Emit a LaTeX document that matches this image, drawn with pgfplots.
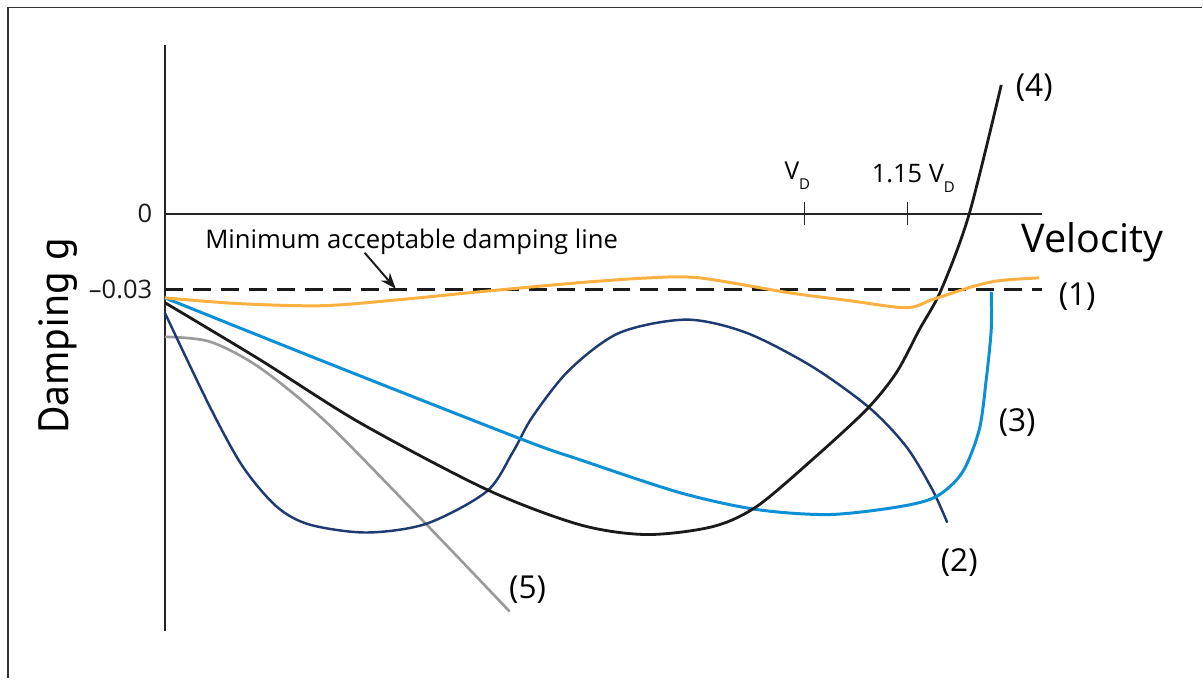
\documentclass[border=0pt]{standalone}
\usepackage{fontspec}
\setmainfont{Open Sans}
\newfontfamily\labelfont{PT Sans}
\usepackage{pgfplots}
\pgfplotsset{compat=1.18}
\usetikzlibrary{arrows.meta}
\definecolor{dOrange}{HTML}{FBB040}
\definecolor{dBlue}{HTML}{0B8FD6}
\definecolor{dNavy}{HTML}{1E3A72}
\definecolor{dGray}{HTML}{9A9A9A}
\definecolor{dBlack}{HTML}{1A1A1A}

\begin{document}
\begin{tikzpicture}
\begin{axis}[
    x=13.74cm, y=50.6667cm,
    xmin=0.0684, xmax=1.3464,
    ymin=-0.1650, ymax=0.0667,
    enlargelimits=false,
    axis x line=middle, axis y line=left,
    axis line style={-, line width=0.85pt, draw=black!85},
    xtick={1,1.15}, xticklabels={,},
    ytick={0,-0.03}, yticklabels={0,–0.03},
    tick align=center, major tick length=0.46cm,
    xtick style={line width=0.85pt, draw=black!85},
    ytick style={draw=none},
    yticklabel style={font=\fontsize{14.5}{16}\selectfont, anchor=east,
                      xshift=0.1cm, text=black!90},
    clip=false,
]
  % minimum acceptable damping
  \addplot[dBlack, line width=1.7pt, dash pattern=on 0.36cm off 0.2cm]
    coordinates {(0.0684,-0.0300) (1.3464,-0.0300)};

  % (5)
  \addplot[dGray, line width=1.5pt, smooth, tension=0.5] coordinates {
    (0.0684,-0.0486) (0.1339,-0.0505) (0.2067,-0.0608) (0.3042,-0.0825)
    (0.4498,-0.1228) (0.5706,-0.1571)};

  % (2)
  \addplot[dNavy, line width=1.4pt, smooth, tension=0.5] coordinates {
    (0.0684,-0.0391) (0.1339,-0.0762) (0.1820,-0.0999) (0.2314,-0.1157)
    (0.2795,-0.1228) (0.3624,-0.1259) (0.4498,-0.1224) (0.5371,-0.1097)
    (0.5750,-0.0943) (0.6041,-0.0801) (0.6579,-0.0616) (0.7307,-0.0470)
    (0.8282,-0.0418) (0.9156,-0.0470) (1.0116,-0.0604)
    (1.0946,-0.0766) (1.1485,-0.0920) (1.1863,-0.1089) (1.2082,-0.1220)};

  % (3)
  \addplot[dBlue, line width=1.7pt, smooth, tension=0.5] coordinates {
    (0.0684,-0.0332) (0.3042,-0.0588) (0.5895,-0.0892) (0.6725,-0.0971)
    (0.8180,-0.1101) (0.9301,-0.1168) (1.0364,-0.1188) (1.1383,-0.1157)
    (1.1921,-0.1117) (1.2300,-0.1022) (1.2547,-0.0853) (1.2649,-0.0655)
    (1.2722,-0.0458) (1.2722,-0.0308)};

  % (4)
  \addplot[dBlack, line width=1.6pt, smooth, tension=0.5] coordinates {
    (0.0684,-0.0351) (0.2067,-0.0576) (0.3523,-0.0825) (0.5371,-0.1089)
    (0.6725,-0.1228) (0.7700,-0.1267) (0.8661,-0.1236) (0.9301,-0.1157)
    (1.0116,-0.0971) (1.0903,-0.0774) (1.1339,-0.0628) (1.1674,-0.0458)
    (1.1994,-0.0300) (1.2402,0.0000) (1.2868,0.0509)};

  % (1)
  \addplot[dOrange, line width=1.7pt, smooth, tension=0.5] coordinates {
    (0.0684,-0.0332) (0.1776,-0.0355) (0.2984,-0.0363) (0.4105,-0.0339)
    (0.5269,-0.0308) (0.6725,-0.0272) (0.7744,-0.0253) (0.8472,-0.0253)
    (0.9782,-0.0312) (1.0655,-0.0343) (1.1485,-0.0371) (1.1863,-0.0339)
    (1.2445,-0.0288) (1.2838,-0.0264) (1.3421,-0.0253)};

  % texts
  \node[anchor=base, font=\fontsize{14}{16}\selectfont]
    at (axis cs:0.9898,0.0134) {V\raisebox{-5.5pt}{\fontsize{8.5}{9}\selectfont D}};
  \node[anchor=base, font=\fontsize{14.5}{16}\selectfont]
    at (axis cs:1.1587,0.0122) {1.15 V\raisebox{-5.5pt}{\fontsize{8.5}{9}\selectfont D}};
  \node[anchor=base west, font=\fontsize{22.5}{25}\selectfont, inner sep=0pt]
    at (axis cs:1.3159,-0.0154) {Velocity};
  \node[rotate=90, font=\labelfont\fontsize{24}{27}\selectfont]
    at (axis cs:-0.0873,-0.0482) {Damping g};
  \node[anchor=base, font=\fontsize{14.6}{17}\selectfont]
    at (axis cs:0.4279,-0.0138) {Minimum acceptable damping line};
  \draw[-{Stealth[length=0.32cm,width=0.24cm]}, line width=1.1pt, dBlack]
    (axis cs:0.3595,-0.0154) -- (axis cs:0.4047,-0.0296);

  \node[font=\fontsize{18}{20}\selectfont] at (axis cs:1.3348,0.0497) {(4)};
  \node[font=\fontsize{18}{20}\selectfont] at (axis cs:1.3974,-0.0328) {(1)};
  \node[font=\fontsize{18}{20}\selectfont] at (axis cs:1.3100,-0.0825) {(3)};
  \node[font=\fontsize{18}{20}\selectfont] at (axis cs:1.2256,-0.1378) {(2)};
  \node[font=\fontsize{18}{20}\selectfont] at (axis cs:0.5968,-0.1484) {(5)};

  % frame and page
  \draw[line width=1.1pt, black!80]
    (axis cs:-0.1601,-0.18355) -- (axis cs:-0.1601,0.0815) -- (axis cs:1.5793,0.0815);
  \path (axis cs:-0.17176,-0.18355) rectangle (axis cs:1.5793,0.08447);
\end{axis}
\end{tikzpicture}
\end{document}
